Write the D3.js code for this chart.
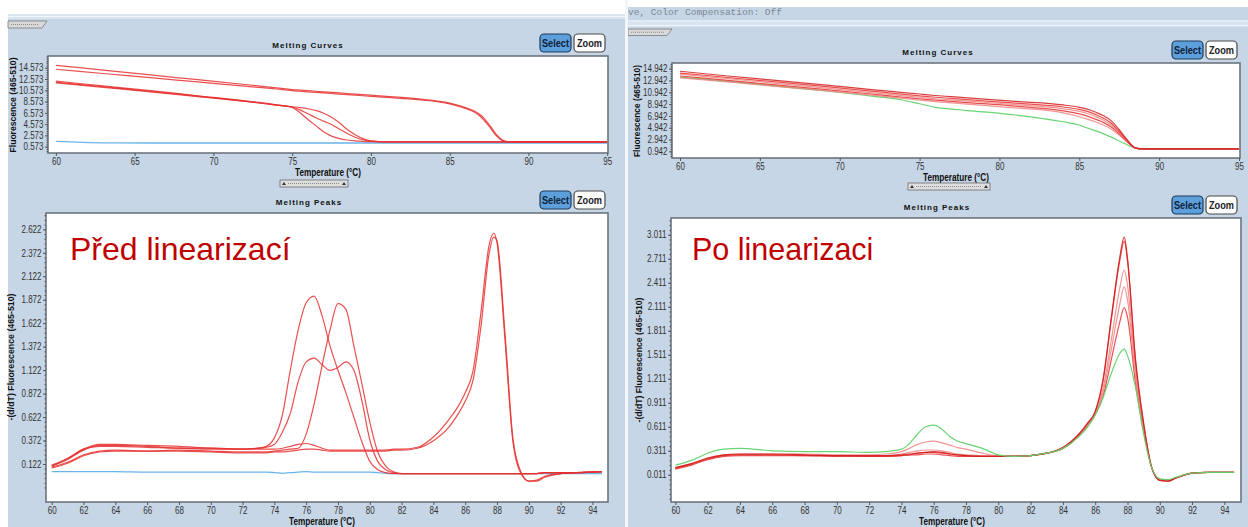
<!DOCTYPE html>
<html>
<head>
<meta charset="utf-8">
<script src="https://cdn.jsdelivr.net/npm/d3@7"></script>
<style>
  body { margin: 0; background: #fff; }
  svg { display: block; }
  .tick text { font-family: "Liberation Sans", Arial, sans-serif; font-size: 10px; fill: #333; }
  .tick line { stroke: #555; }
</style>
</head>
<body>
<svg id="c" width="1248" height="527"></svg>
<script>
// ---------- Melting curves, before linearization ----------
const curvesBeforeTemp = [60, 63, 66, 69, 72, 74, 75, 75.5, 76, 76.5, 77, 77.5, 78, 78.5, 79, 79.5, 80, 81, 83, 85, 86, 86.5, 87, 87.5, 88, 88.5, 89, 92, 95];
const curveB1 = [15.0, 14.15, 13.3, 12.45, 11.6, 11.0, 10.7, 10.6, 10.5, 10.4, 10.3, 10.2, 10.1, 10.0, 9.9, 9.8, 9.7, 9.5, 9.05, 8.3, 7.5, 7.0, 6.1, 4.5, 2.6, 1.55, 1.42, 1.42, 1.42];
const curveB2 = [14.3, 13.55, 12.8, 12.05, 11.3, 10.8, 10.5, 10.4, 10.3, 10.2, 10.1, 10.0, 9.9, 9.8, 9.7, 9.6, 9.5, 9.3, 8.9, 8.15, 7.35, 6.8, 5.8, 4.2, 2.4, 1.5, 1.42, 1.42, 1.42];
const curveB3 = [12.2, 11.35, 10.5, 9.6, 8.7, 8.0, 7.55, 6.6, 5.4, 4.3, 3.2, 2.45, 2.0, 1.75, 1.6, 1.5, 1.45, 1.42, 1.42, 1.42, 1.42, 1.42, 1.42, 1.42, 1.42, 1.42, 1.42, 1.42, 1.42];
const curveB4 = [12.0, 11.2, 10.4, 9.55, 8.65, 7.95, 7.6, 7.1, 6.4, 5.7, 5.1, 4.5, 3.7, 2.9, 2.25, 1.8, 1.55, 1.42, 1.42, 1.42, 1.42, 1.42, 1.42, 1.42, 1.42, 1.42, 1.42, 1.42, 1.42];
const curveB5 = [11.9, 11.1, 10.3, 9.45, 8.6, 7.95, 7.65, 7.5, 7.3, 7.0, 6.5, 5.8, 4.8, 3.6, 2.7, 2.0, 1.6, 1.42, 1.42, 1.42, 1.42, 1.42, 1.42, 1.42, 1.42, 1.42, 1.42, 1.42, 1.42];
const curveBBlank = [1.5, 1.25, 1.22, 1.22, 1.22, 1.22, 1.22, 1.22, 1.22, 1.22, 1.22, 1.22, 1.22, 1.22, 1.22, 1.22, 1.22, 1.22, 1.22, 1.22, 1.22, 1.22, 1.22, 1.22, 1.22, 1.22, 1.22, 1.22, 1.22];
const curvesBeforeYTicks = [0.573, 2.573, 4.573, 6.573, 8.573, 10.573, 12.573, 14.573];
const curvesXTicks = [60, 65, 70, 75, 80, 85, 90, 95];

// ---------- Melting peaks, before linearization ----------
const peaksBeforeTemp = [60, 61, 62, 63, 64, 66, 68, 70, 72, 73, 73.5, 74, 74.5, 75, 75.5, 76, 76.5, 77, 77.5, 78, 78.5, 79, 79.5, 80, 80.5, 81, 81.5, 82, 83, 84, 85, 85.5, 86, 86.5, 87, 87.5, 87.8, 88, 88.5, 89, 89.5, 90, 90.5, 91, 92, 93, 94.6];
const peakA = [0.10, 0.17, 0.27, 0.32, 0.32, 0.31, 0.29, 0.28, 0.28, 0.29, 0.31, 0.40, 0.64, 1.12, 1.55, 1.84, 1.91, 1.70, 1.38, 1.12, 0.88, 0.62, 0.36, 0.15, 0.06, 0.03, 0.02, 0.02, 0.02, 0.02, 0.02, 0.02, 0.02, 0.02, 0.02, 0.02, 0.02, 0.02, 0.02, 0.02, 0.02, 0.02, 0.02, 0.03, 0.03, 0.03, 0.04];
const peakB = [0.09, 0.14, 0.22, 0.26, 0.27, 0.26, 0.27, 0.26, 0.25, 0.25, 0.25, 0.26, 0.27, 0.28, 0.29, 0.44, 0.76, 1.17, 1.55, 1.83, 1.77, 1.38, 0.98, 0.57, 0.25, 0.10, 0.04, 0.02, 0.02, 0.02, 0.02, 0.02, 0.02, 0.02, 0.02, 0.02, 0.02, 0.02, 0.02, 0.02, 0.02, 0.02, 0.02, 0.03, 0.03, 0.03, 0.04];
const peakC = [0.11, 0.18, 0.28, 0.31, 0.31, 0.30, 0.29, 0.29, 0.28, 0.29, 0.30, 0.33, 0.46, 0.66, 1.00, 1.21, 1.25, 1.18, 1.12, 1.15, 1.21, 1.12, 0.80, 0.38, 0.15, 0.06, 0.03, 0.02, 0.02, 0.02, 0.02, 0.02, 0.02, 0.02, 0.02, 0.02, 0.02, 0.02, 0.02, 0.02, 0.02, 0.02, 0.02, 0.03, 0.03, 0.03, 0.04];
const peakD1 = [0.10, 0.18, 0.28, 0.33, 0.33, 0.32, 0.31, 0.29, 0.28, 0.28, 0.28, 0.28, 0.29, 0.31, 0.33, 0.34, 0.32, 0.29, 0.27, 0.27, 0.27, 0.27, 0.27, 0.27, 0.27, 0.27, 0.28, 0.28, 0.30, 0.41, 0.60, 0.72, 0.88, 1.12, 1.75, 2.45, 2.58, 2.48, 1.45, 0.36, 0.02, -0.06, -0.05, -0.01, 0.02, 0.03, 0.04];
const peakD2 = [0.08, 0.13, 0.21, 0.25, 0.26, 0.26, 0.26, 0.25, 0.24, 0.24, 0.24, 0.25, 0.25, 0.26, 0.27, 0.28, 0.28, 0.27, 0.26, 0.26, 0.26, 0.26, 0.26, 0.26, 0.26, 0.26, 0.27, 0.27, 0.29, 0.37, 0.52, 0.64, 0.79, 1.02, 1.60, 2.36, 2.54, 2.50, 1.52, 0.40, 0.04, -0.06, -0.06, -0.02, 0.02, 0.03, 0.04];
const peakBlank = [0.04, 0.04, 0.04, 0.04, 0.04, 0.035, 0.035, 0.035, 0.035, 0.035, 0.035, 0.03, 0.022, 0.03, 0.035, 0.04, 0.035, 0.035, 0.035, 0.035, 0.035, 0.035, 0.035, 0.035, 0.03, 0.022, 0.02, 0.02, 0.02, 0.02, 0.02, 0.02, 0.02, 0.02, 0.02, 0.02, 0.02, 0.02, 0.02, 0.02, 0.02, 0.02, 0.02, 0.02, 0.02, 0.02, 0.02];
const peaksBeforeYTicks = [0.122, 0.372, 0.622, 0.872, 1.122, 1.372, 1.622, 1.872, 2.122, 2.372, 2.622];
const peaksXTicks = [60, 62, 64, 66, 68, 70, 72, 74, 76, 78, 80, 82, 84, 86, 88, 90, 92, 94];

// ---------- Melting curves, after linearization ----------
const curvesAfterTemp = [60, 63, 66, 69, 72, 74, 75, 76, 77, 78, 81, 84, 85, 85.5, 86, 86.5, 87, 87.5, 88, 88.5, 89, 92, 95];
const curveAG = [13.5, 12.8, 12.0, 11.2, 10.3, 9.6, 9.0, 8.4, 8.1, 7.85, 7.1, 5.95, 5.4, 4.9, 4.45, 3.95, 3.35, 2.7, 2.05, 1.5, 1.35, 1.35, 1.35];
const curveA1 = [14.5, 13.7, 12.95, 12.2, 11.4, 10.9, 10.65, 10.4, 10.2, 10.0, 9.4, 8.8, 8.4, 8.1, 7.6, 7.0, 6.1, 4.6, 2.9, 1.55, 1.35, 1.35, 1.35];
const curveA2 = [14.2, 13.45, 12.7, 11.95, 11.15, 10.6, 10.35, 10.1, 9.9, 9.7, 9.1, 8.45, 8.05, 7.7, 7.2, 6.6, 5.7, 4.3, 2.8, 1.55, 1.35, 1.35, 1.35];
const curveA3 = [14.0, 13.25, 12.45, 11.7, 10.9, 10.35, 10.1, 9.85, 9.65, 9.45, 8.85, 8.15, 7.7, 7.35, 6.85, 6.25, 5.4, 4.1, 2.7, 1.5, 1.35, 1.35, 1.35];
const curveA4 = [13.7, 12.95, 12.2, 11.45, 10.65, 10.1, 9.85, 9.6, 9.4, 9.2, 8.6, 7.8, 7.3, 6.9, 6.4, 5.85, 5.05, 3.9, 2.6, 1.5, 1.35, 1.35, 1.35];
const curveA5 = [13.4, 12.7, 11.95, 11.2, 10.45, 9.9, 9.6, 9.35, 9.15, 8.95, 8.3, 7.45, 6.8, 6.4, 5.95, 5.4, 4.7, 3.7, 2.5, 1.5, 1.35, 1.35, 1.35];
const curvesAfterYTicks = [0.942, 2.942, 4.942, 6.942, 8.942, 10.942, 12.942, 14.942];

// ---------- Melting peaks, after linearization ----------
const peaksAfterTemp = [60, 61, 62, 63, 64, 66, 68, 70, 72, 73, 74, 74.5, 75, 75.5, 76, 76.5, 77, 77.5, 78, 79, 80, 81, 82, 83, 84, 85, 85.5, 86, 86.5, 87, 87.5, 87.8, 88, 88.5, 89, 89.5, 90, 90.5, 91, 92, 93, 94.6];
const peakAG = [0.13, 0.19, 0.28, 0.33, 0.34, 0.31, 0.30, 0.30, 0.29, 0.30, 0.33, 0.40, 0.52, 0.61, 0.63, 0.58, 0.49, 0.43, 0.40, 0.34, 0.26, 0.24, 0.25, 0.28, 0.34, 0.49, 0.60, 0.76, 0.98, 1.28, 1.52, 1.58, 1.50, 1.10, 0.52, 0.10, -0.04, -0.05, -0.02, 0.03, 0.04, 0.04];
const peakA1 = [0.10, 0.15, 0.22, 0.26, 0.27, 0.27, 0.26, 0.25, 0.25, 0.25, 0.26, 0.27, 0.28, 0.29, 0.30, 0.29, 0.27, 0.26, 0.25, 0.24, 0.24, 0.24, 0.25, 0.28, 0.35, 0.52, 0.65, 0.80, 1.22, 1.98, 2.70, 2.98, 2.72, 1.45, 0.66, 0.10, -0.06, -0.07, -0.03, 0.03, 0.04, 0.04];
const peakA2 = [0.09, 0.14, 0.21, 0.25, 0.26, 0.26, 0.25, 0.25, 0.24, 0.24, 0.25, 0.26, 0.26, 0.27, 0.27, 0.26, 0.25, 0.24, 0.24, 0.24, 0.24, 0.24, 0.25, 0.28, 0.35, 0.52, 0.64, 0.80, 1.20, 1.95, 2.66, 2.93, 2.68, 1.42, 0.64, 0.10, -0.06, -0.07, -0.03, 0.03, 0.04, 0.04];
const peakA3 = [0.10, 0.15, 0.22, 0.26, 0.27, 0.27, 0.27, 0.26, 0.26, 0.27, 0.30, 0.34, 0.39, 0.42, 0.43, 0.41, 0.38, 0.35, 0.33, 0.28, 0.25, 0.25, 0.25, 0.28, 0.34, 0.50, 0.62, 0.78, 1.10, 1.70, 2.32, 2.57, 2.38, 1.30, 0.60, 0.10, -0.05, -0.06, -0.03, 0.03, 0.04, 0.04];
const peakA4 = [0.09, 0.14, 0.21, 0.25, 0.26, 0.26, 0.26, 0.25, 0.25, 0.25, 0.27, 0.29, 0.31, 0.32, 0.32, 0.31, 0.29, 0.27, 0.26, 0.25, 0.24, 0.24, 0.25, 0.28, 0.34, 0.50, 0.62, 0.77, 1.05, 1.58, 2.12, 2.36, 2.20, 1.22, 0.57, 0.10, -0.05, -0.06, -0.03, 0.03, 0.04, 0.04];
const peakA5 = [0.08, 0.13, 0.20, 0.24, 0.25, 0.25, 0.25, 0.24, 0.24, 0.24, 0.25, 0.26, 0.28, 0.29, 0.29, 0.28, 0.27, 0.26, 0.25, 0.24, 0.24, 0.24, 0.25, 0.28, 0.34, 0.50, 0.61, 0.76, 1.00, 1.45, 1.90, 2.10, 1.98, 1.15, 0.55, 0.10, -0.05, -0.06, -0.03, 0.03, 0.04, 0.04];
const peaksAfterYTicks = [0.011, 0.311, 0.611, 0.911, 1.211, 1.511, 1.811, 2.111, 2.411, 2.711, 3.011];

// ---------- drawing ----------
const SANS = '"Liberation Sans", Arial, sans-serif';
const BG = "#c6d6e6";
const RED = "#e5302f", RED_DARK = "#d01c1c", PINK = "#f08282", BLUE = "#62b0ea", GREEN = "#62d26a";

// squeeze text horizontally to mimic a condensed face
function condense(sel, factor) {
  sel.each(function () {
    const len = this.getComputedTextLength();
    d3.select(this).attr("textLength", len * factor).attr("lengthAdjust", "spacingAndGlyphs");
  });
}

const svg = d3.select("#c");
svg.append("rect").attr("width", 1248).attr("height", 527).attr("fill", "#fff");

// window backgrounds
svg.append("rect").attr("x", 8).attr("y", 14).attr("width", 617).attr("height", 513).attr("fill", BG);
svg.append("rect").attr("x", 8).attr("y", 14).attr("width", 617).attr("height", 5).attr("fill", "#dbe5ef");
svg.append("line").attr("x1", 8).attr("x2", 625).attr("y1", 16.5).attr("y2", 16.5).attr("stroke", "#f3f7fb");
svg.append("rect").attr("x", 628).attr("y", 7).attr("width", 620).attr("height", 520).attr("fill", BG);
svg.append("rect").attr("x", 628).attr("y", 20).attr("width", 620).attr("height", 7).attr("fill", "#d7e3ef");
svg.append("line").attr("x1", 628).attr("x2", 1248).attr("y1", 21).attr("y2", 21).attr("stroke", "#eef4f9");
svg.append("line").attr("x1", 628).attr("x2", 1248).attr("y1", 25.5).attr("y2", 25.5).attr("stroke", "#eef4f9");
svg.append("text").attr("x", 628).attr("y", 15).attr("font-family", '"Liberation Mono", "DejaVu Sans Mono", monospace')
  .attr("font-size", 9.5).attr("fill", "#7c8894").text("ve, Color Compensation: Off");

// small folder tabs
function tab(x, y, w, h) {
  svg.append("path").attr("d", `M${x},${y + h} L${x},${y} L${x + w},${y} L${x + w - 5},${y + h} Z`)
    .attr("fill", "#d9d9d9").attr("stroke", "#7a7a7a").attr("stroke-width", 0.8);
  svg.append("line").attr("x1", x + 3).attr("x2", x + w - 8).attr("y1", y + h / 2).attr("y2", y + h / 2)
    .attr("stroke", "#8a8a8a").attr("stroke-dasharray", "1,1");
}
tab(8, 21, 39, 7);
tab(628, 29, 44, 6.5);

function button(x, y, w, h, label, selected) {
  svg.append("rect").attr("x", x).attr("y", y).attr("width", w).attr("height", h).attr("rx", 4)
    .attr("fill", selected ? "#5d9fdb" : "#fdfdfd").attr("stroke", selected ? "#1d3a5c" : "#4a4a4a").attr("stroke-width", 1.2);
  svg.append("text").attr("x", x + w / 2).attr("y", y + h / 2 + 4).attr("text-anchor", "middle")
    .attr("font-family", SANS).attr("font-weight", "bold").attr("font-size", 11.5)
    .attr("fill", selected ? "#0f2238" : "#222").text(label)
    .call(condense, 0.8);
}

function slider(x, y, w) {
  svg.append("rect").attr("x", x).attr("y", y).attr("width", w).attr("height", 7).attr("fill", "#dedede").attr("stroke", "#6d6d6d").attr("stroke-width", 0.8);
  svg.append("line").attr("x1", x + 8).attr("x2", x + w - 8).attr("y1", y + 3.5).attr("y2", y + 3.5).attr("stroke", "#8a8a8a").attr("stroke-dasharray", "1,1");
  [x + 4, x + w - 4].forEach(cx => svg.append("path").attr("d", `M${cx - 2},${y + 5} L${cx},${y + 2} L${cx + 2},${y + 5} Z`).attr("fill", "#333"));
}

let clipId = 0;
function chart(o) {
  const g = svg.append("g");
  const x = d3.scaleLinear().domain(o.xDomain).range([o.left, o.right]);
  const y = d3.scaleLinear().domain(o.yDomain).range([o.bottom, o.top]);

  g.append("rect").attr("x", o.left).attr("y", o.top).attr("width", o.right - o.left).attr("height", o.bottom - o.top)
    .attr("fill", "#fff");

  const cid = "clip" + (clipId++);
  g.append("clipPath").attr("id", cid).append("rect")
    .attr("x", o.left).attr("y", o.top).attr("width", o.right - o.left).attr("height", o.bottom - o.top);

  const line = d3.line().x(d => x(d[0])).y(d => y(d[1])).curve(d3.curveMonotoneX);
  const lines = g.append("g").attr("clip-path", `url(#${cid})`);
  o.series.forEach(s => {
    lines.append("path").datum(o.temps.map((t, i) => [t, s.values[i]]))
      .attr("d", line).attr("fill", "none").attr("stroke", s.color)
      .attr("stroke-width", s.width || 1.2).attr("stroke-opacity", s.opacity || 0.85)
      .attr("stroke-linejoin", "round");
  });

  g.append("rect").attr("x", o.left).attr("y", o.top).attr("width", o.right - o.left).attr("height", o.bottom - o.top)
    .attr("fill", "none").attr("stroke", "#6c757e").attr("stroke-width", 1.6);

  // y axis with minor ruler ticks
  const step = o.yTicks[1] - o.yTicks[0];
  const minor = [];
  for (let v = o.yTicks[0] - step; v <= o.yDomain[1]; v += step / 5) if (v >= o.yDomain[0]) minor.push(v);
  g.append("g").attr("transform", `translate(${o.left},0)`)
    .call(d3.axisLeft(y).tickValues(minor).tickSize(1.5).tickFormat(""))
    .call(a => a.select(".domain").remove()).selectAll("line").attr("stroke", "#888");
  g.append("g").attr("transform", `translate(${o.left},0)`)
    .call(d3.axisLeft(y).tickValues(o.yTicks).tickSize(3).tickPadding(1.5).tickFormat(d3.format(".3f")))
    .call(a => a.select(".domain").remove())
    .selectAll("text").call(condense, 0.8);

  // x axis
  g.append("g").attr("transform", `translate(0,${o.bottom})`)
    .call(d3.axisBottom(x).tickValues(o.xTicks).tickSize(3).tickPadding(2).tickFormat(d3.format("d")))
    .call(a => a.select(".domain").remove())
    .selectAll("text").call(condense, 0.8);

  // titles
  svg.append("text").attr("x", o.titleX).attr("y", o.titleY).attr("text-anchor", "middle")
    .attr("font-family", SANS).attr("font-weight", "bold").attr("font-size", 8)
    .attr("letter-spacing", 1).attr("fill", "#111").text(o.title);
  svg.append("text").attr("x", o.xLabelX).attr("y", o.xLabelY).attr("text-anchor", "middle")
    .attr("font-family", SANS).attr("font-weight", "bold").attr("font-size", 10.5).attr("fill", "#111")
    .text("Temperature (°C)").attr("textLength", 66).attr("lengthAdjust", "spacingAndGlyphs");
  svg.append("text").attr("transform", `translate(${o.yLabelX},${o.yLabelY}) rotate(-90)`).attr("text-anchor", "middle")
    .attr("font-family", SANS).attr("font-weight", "bold").attr("font-size", 9.5).attr("fill", "#111")
    .text(o.yLabel).attr("textLength", o.yLabelLen).attr("lengthAdjust", "spacingAndGlyphs");
  button(o.btnX, o.btnY, 31, 18, "Select", true);
  button(o.btnX + 34, o.btnY, 31, 18, "Zoom", false);
}

// before linearization: melting curves
chart({
  left: 48, right: 608, top: 56, bottom: 153,
  xDomain: [59.5, 95.05], yDomain: [-0.55, 16.65],
  temps: curvesBeforeTemp, xTicks: curvesXTicks, yTicks: curvesBeforeYTicks,
  series: [
    { values: curveBBlank, color: BLUE, opacity: 0.95, width: 1.3 },
    { values: curveB1, color: RED }, { values: curveB2, color: RED },
    { values: curveB3, color: RED }, { values: curveB4, color: RED }, { values: curveB5, color: RED }
  ],
  title: "Melting Curves", titleX: 308, titleY: 48,
  xLabelX: 328, xLabelY: 176, yLabel: "Fluorescence (465-510)", yLabelX: 16, yLabelY: 105, yLabelLen: 95,
  btnX: 540, btnY: 34
});
slider(280, 180, 68);

// before linearization: melting peaks
chart({
  left: 46, right: 608, top: 213, bottom: 502,
  xDomain: [59.64, 94.98], yDomain: [-0.283, 2.796],
  temps: peaksBeforeTemp, xTicks: peaksXTicks, yTicks: peaksBeforeYTicks,
  series: [
    { values: peakBlank, color: BLUE, opacity: 0.95, width: 1.3 },
    { values: peakA, color: RED }, { values: peakB, color: RED }, { values: peakC, color: RED },
    { values: peakD1, color: RED }, { values: peakD2, color: RED }
  ],
  title: "Melting Peaks", titleX: 309, titleY: 205,
  xLabelX: 322, xLabelY: 525, yLabel: "-(d/dT) Fluorescence (465-510)", yLabelX: 14, yLabelY: 357, yLabelLen: 127,
  btnX: 540, btnY: 191
});

// after linearization: melting curves
chart({
  left: 672, right: 1240, top: 63, bottom: 158,
  xDomain: [59.5, 95.06], yDomain: [-0.18, 15.9],
  temps: curvesAfterTemp, xTicks: curvesXTicks, yTicks: curvesAfterYTicks,
  series: [
    { values: curveAG, color: GREEN, opacity: 0.95 },
    { values: curveA5, color: PINK }, { values: curveA4, color: RED }, { values: curveA3, color: PINK },
    { values: curveA2, color: RED }, { values: curveA1, color: RED_DARK }
  ],
  title: "Melting Curves", titleX: 938, titleY: 55,
  xLabelX: 956, xLabelY: 181, yLabel: "Fluorescence (465-510)", yLabelX: 640, yLabelY: 111, yLabelLen: 92,
  btnX: 1172, btnY: 41
});
slider(908, 183, 82);

// after linearization: melting peaks
chart({
  left: 671, right: 1241, top: 218, bottom: 502,
  xDomain: [59.73, 95.03], yDomain: [-0.33, 3.22],
  temps: peaksAfterTemp, xTicks: peaksXTicks, yTicks: peaksAfterYTicks,
  series: [
    { values: peakA5, color: RED }, { values: peakA4, color: PINK }, { values: peakA3, color: PINK },
    { values: peakA2, color: RED }, { values: peakA1, color: RED_DARK },
    { values: peakAG, color: GREEN, opacity: 0.95 }
  ],
  title: "Melting Peaks", titleX: 937, titleY: 210,
  xLabelX: 952, xLabelY: 525, yLabel: "-(d/dT) Fluorescence (465-510)", yLabelX: 642, yLabelY: 360, yLabelLen: 125,
  btnX: 1172, btnY: 196
});

// panel captions
svg.append("text").attr("x", 70).attr("y", 260).attr("font-family", SANS)
  .attr("font-size", 32).attr("fill", "#c00000").text("Před linearizací");
svg.append("text").attr("x", 692).attr("y", 260).attr("font-family", SANS)
  .attr("font-size", 30.5).attr("fill", "#c00000").text("Po linearizaci");

// divider between the two windows
svg.append("rect").attr("x", 625).attr("y", 0).attr("width", 3).attr("height", 527).attr("fill", "#f4f7fa");
</script>
</body>
</html>
